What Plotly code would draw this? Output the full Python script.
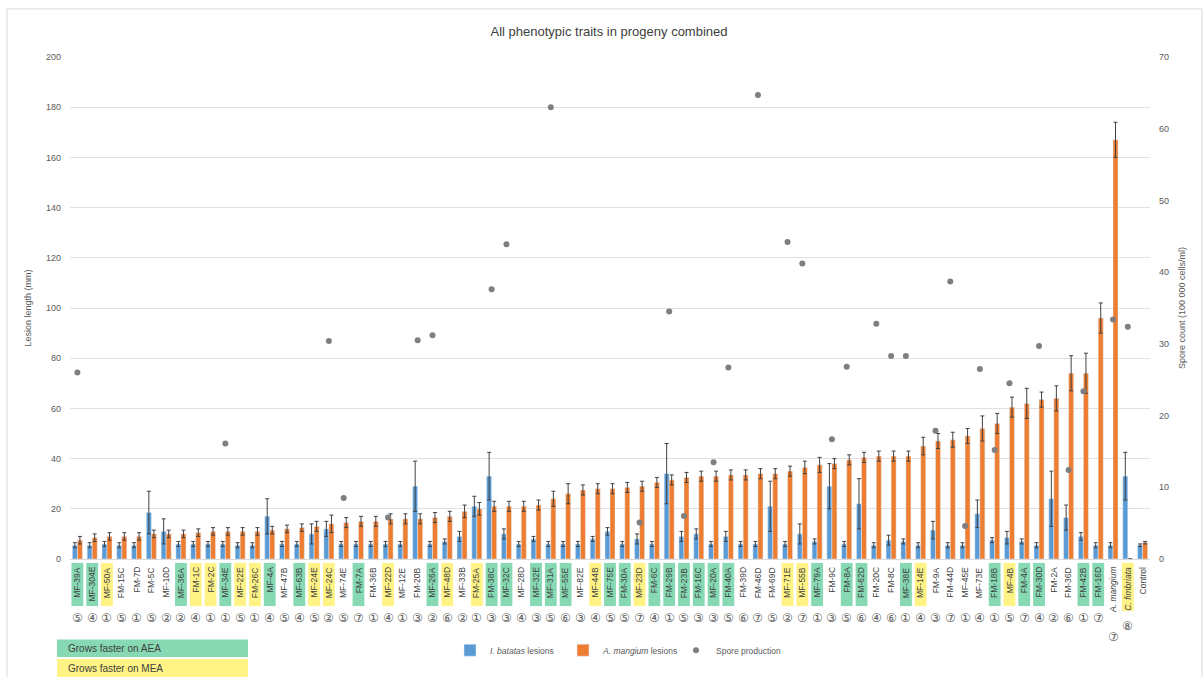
import plotly.graph_objects as go

# Progeny isolates (sorted by A. mangium lesion length) plus reference isolates and control
categories = [
    "MF-39A", "MF-304E", "MF-50A", "FM-15C", "FM-7D", "FM-5C", "MF-10D", "MF-36A", "FM-1C", "FM-2C",
    "MF-34E", "MF-22E", "FM-26C", "MF-4A", "MF-47B", "MF-63B", "MF-24E", "MF-24C", "MF-74E", "FM-7A",
    "FM-36B", "MF-22D", "MF-12E", "FM-20B", "MF-26A", "MF-48D", "MF-33B", "FM-25A", "FM-38C", "MF-32C",
    "MF-28D", "MF-32E", "MF-31A", "MF-55E", "MF-82E", "MF-44B", "MF-75E", "FM-30A", "MF-23D", "FM-6C",
    "FM-29B", "FM-23B", "FM-16C", "MF-20A", "FM-40A", "FM-39D", "FM-46D", "FM-69D", "MF-71E", "MF-55B",
    "MF-79A", "FM-9C", "FM-8A", "FM-62D", "FM-20C", "FM-8C", "MF-38E", "MF-14E", "FM-9A", "FM-44D",
    "MF-45E", "MF-73E", "FM-18B", "MF-4B", "FM-4A", "FM-30D", "FM-2A", "FM-36D", "FM-42B", "FM-16D",
    "<i>A. mangium</i>", "<i>C. fimbriata</i>", "Control",
]

# Growth medium preference: G = faster on AEA, Y = faster on MEA, N = neither
growth = [
    "G", "G", "Y", "N", "N", "N", "N", "G", "Y", "Y",
    "G", "Y", "Y", "G", "N", "G", "Y", "Y", "N", "G",
    "N", "Y", "N", "N", "G", "Y", "N", "Y", "G", "G",
    "N", "G", "G", "G", "N", "Y", "G", "G", "Y", "G",
    "G", "G", "G", "G", "G", "N", "N", "N", "Y", "Y",
    "G", "N", "G", "G", "N", "N", "G", "Y", "N", "N",
    "N", "N", "G", "Y", "G", "G", "N", "N", "G", "G",
    "N", "Y", "N",
]

# Circled group numbers under each label
groups = [
    5, 4, 1, 5, 1, 5, 2, 2, 4, 1,
    1, 5, 1, 4, 5, 4, 5, 2, 5, 7,
    1, 4, 1, 3, 2, 6, 2, 1, 3, 3,
    4, 3, 5, 6, 3, 4, 5, 5, 7, 4,
    1, 5, 3, 3, 5, 6, 7, 5, 2, 7,
    1, 3, 5, 6, 4, 6, 1, 4, 3, 7,
    1, 4, 1, 5, 7, 4, 2, 6, 1, 7,
    7, 8, None,
]

# I. batatas lesion length (mm) and standard error
batatas = [
    5.5, 5.5, 6, 5.5, 5.5, 18.5, 11, 6, 6, 6,
    6, 5.5, 5.5, 17, 6, 6, 10, 12, 6, 6,
    6, 6, 6, 29, 6, 7, 9, 21, 33, 10,
    6, 8, 6, 6, 6, 8, 11, 6, 8, 6,
    34, 9, 10, 6, 9, 6, 6, 21, 6, 10,
    7, 29, 6, 22, 5.5, 7.5, 7, 5.5, 11.5, 5.5,
    5.5, 18, 7.5, 8.5, 7, 5.5, 24, 16.5, 9, 5.5,
    5.5, 33, 5.5,
]
batatas_err = [
    1, 1, 1, 1, 1, 8.5, 5, 1, 1, 1,
    1, 1, 1, 7, 1, 1, 4, 3, 1, 1,
    1, 1, 1, 10, 1, 1, 2, 4, 9.5, 2,
    1, 1, 1, 1, 1, 1, 1.5, 1, 2, 1,
    12, 2, 2, 1, 2, 1, 1, 10, 1, 4,
    1, 9, 1, 10, 1, 2, 1, 1, 3.5, 1,
    1, 5.5, 1, 2.5, 1, 1, 11, 5, 1.5, 1,
    1, 9.5, 0.5,
]

# A. mangium lesion length (mm) and standard error
mangium = [
    7.5, 8.5, 9, 9, 9, 10, 10, 10, 10.5, 11,
    11, 11, 11, 11.5, 12, 12.5, 13, 14, 14.5, 15,
    15, 16, 16, 16, 16.5, 17, 19, 20, 21, 21,
    21, 21.5, 24, 26, 27.5, 28, 28, 28.5, 29, 30.5,
    31.5, 32.5, 33, 33, 33.5, 33.5, 34, 34, 35, 36.5,
    37.5, 38, 39.5, 40.5, 41, 41, 41, 45, 47, 47.5,
    49, 52, 54, 60.5, 62, 63.5, 64, 74, 74, 96,
    167, 0, 6.5,
]
mangium_err = [
    1.5, 1.5, 1.5, 1.5, 1.5, 1.5, 1.5, 1.5, 1.5, 1.5,
    1.5, 1.5, 1.5, 1.5, 1.5, 1.5, 2, 3.5, 2, 2,
    2, 2, 2, 2, 2, 2, 2.5, 2.5, 2, 2,
    2, 2, 3, 4, 2, 2, 2, 2, 2, 2,
    2, 2, 2, 2, 2, 2, 2, 2, 2, 2.5,
    3, 2, 2, 2, 2, 2, 2, 3.5, 3, 3,
    3, 5, 4, 4, 6, 3, 5, 7, 8, 6,
    7, 0, 0.5,
]

# Spore count (100 000 cells/ml); None where no count is plotted
spores = [
    26.0, None, None, None, None, None, None, None, None, None,
    16.1, None, None, None, None, None, None, 30.4, 8.5, None,
    None, 5.8, None, 30.5, 31.2, None, None, None, 37.6, 43.9,
    None, None, 63.0, None, None, None, None, None, 5.1, None,
    34.5, 6.0, None, 13.5, 26.7, None, 64.7, None, 44.2, 41.2,
    None, 16.7, 26.8, None, 32.8, 28.3, 28.3, None, 17.9, 38.7,
    4.6, 26.5, 15.2, 24.5, None, 29.7, None, 12.4, 23.4, None,
    33.4, 32.4, None,
]

x = list(range(len(categories)))

# Pixel geometry of the plotting area (used to place paper-referenced items)
L, R, T, B = 70, 53, 57, 108
W, H = 1203, 677
PW, PH = W - L - R, H - T - B


def px(xp):
    return (xp - L) / PW


def py(yp):
    return (H - B - yp) / PH


FONT = "Liberation Sans, Arial, sans-serif"
GREEN = "#86d9b3"
YELLOW = "#fff386"

fig = go.Figure()
fig.add_trace(go.Bar(
    x=x, y=batatas, name="<i>I. batatas</i> lesions", marker_color="#5b9bd5",
    error_y=dict(type="data", array=batatas_err, color="#404040", thickness=1, width=2),
))
fig.add_trace(go.Bar(
    x=x, y=mangium, name="<i>A. mangium</i> lesions", marker_color="#ed7d31",
    error_y=dict(type="data", array=mangium_err, color="#404040", thickness=1, width=2),
))
fig.add_trace(go.Scatter(
    x=x, y=spores, name="Spore production", mode="markers", yaxis="y2",
    marker=dict(color="#7f7f7f", size=6, symbol="circle"),
))

shapes = []
annotations = []

# Category labels with growth-medium highlight and circled group numbers
for i, (lab, g, n) in enumerate(zip(categories, growth, groups)):
    if g != "N":
        shapes.append(dict(
            type="rect", xref="x", yref="paper", x0=i - 0.4, x1=i + 0.4,
            y0=py(573), y1=py(622 if i == 71 else 617),
            fillcolor=GREEN if g == "G" else YELLOW, line=dict(width=0), layer="below",
        ))
    annotations.append(dict(
        x=i, xref="x", y=py(575), yref="paper", text=lab, showarrow=False,
        textangle=-90, xanchor="center", yanchor="top",
        font=dict(family=FONT, size=8.5, color="#404040"),
    ))
    if n is not None:
        ny = 629
        if i == 70:
            ny = 649
        elif i == 71:
            ny = 637
        annotations.append(dict(
            x=i, xref="x", y=py(ny), yref="paper", text=chr(0x2460 + n - 1),
            showarrow=False, xanchor="center", yanchor="middle",
            font=dict(family="DejaVu Sans, sans-serif", size=12, color="#595959"),
        ))

# Growth-medium key
shapes.append(dict(type="rect", xref="paper", yref="paper", x0=px(57), x1=px(248),
                   y0=py(669), y1=py(651), fillcolor=GREEN, line=dict(width=0)))
shapes.append(dict(type="rect", xref="paper", yref="paper", x0=px(57), x1=px(248),
                   y0=py(690), y1=py(671), fillcolor=YELLOW, line=dict(width=0)))
annotations.append(dict(x=px(66), y=py(660), xref="paper", yref="paper", text="Grows faster on AEA",
                        showarrow=False, xanchor="left", yanchor="middle",
                        font=dict(family=FONT, size=10, color="#404040")))
annotations.append(dict(x=px(66), y=py(681), xref="paper", yref="paper", text="Grows faster on MEA",
                        showarrow=False, xanchor="left", yanchor="middle",
                        font=dict(family=FONT, size=10, color="#404040")))

# Chart-area frame
shapes.append(dict(type="rect", xref="paper", yref="paper", x0=px(7), x1=px(1202),
                   y0=py(700), y1=py(8), line=dict(color="#d9d9d9", width=1), layer="below"))

fig.update_layout(
    width=W, height=H,
    margin=dict(l=L, r=R, t=T, b=B),
    paper_bgcolor="white", plot_bgcolor="white",
    title=dict(text="All phenotypic traits in progeny combined", x=609 / W, xanchor="center",
               y=1 - 31 / H, yanchor="middle",
               font=dict(family=FONT, size=13, color="#404040")),
    font=dict(family=FONT, size=9, color="#595959"),
    barmode="group", bargap=0.32, bargroupgap=0.0,
    xaxis=dict(range=[-0.5, len(categories) - 0.5], showticklabels=False, showgrid=False,
               zeroline=False, showline=True, linecolor="#d9d9d9", ticks=""),
    yaxis=dict(range=[0, 200], dtick=20, showgrid=True, gridcolor="#e0e0e0", zeroline=False,
               title=dict(text="Lesion length (mm)", font=dict(size=9, color="#595959"), standoff=12),
               tickfont=dict(size=9, color="#595959"), ticklabelstandoff=8),
    yaxis2=dict(range=[0, 70], dtick=10, overlaying="y", side="right", showgrid=False,
                zeroline=False,
                title=dict(text="Spore count (100 000 cells/ml)", font=dict(size=9, color="#595959"),
                           standoff=10),
                tickfont=dict(size=9, color="#595959"), ticklabelstandoff=8),
    legend=dict(orientation="h", x=px(450), xanchor="left", y=py(662), yanchor="middle",
                font=dict(family=FONT, size=8.5, color="#595959"), bgcolor="rgba(0,0,0,0)",
                itemwidth=30, traceorder="normal", entrywidth=68, entrywidthmode="pixels"),
    shapes=shapes,
    annotations=annotations,
)

fig.write_html("out.html")
